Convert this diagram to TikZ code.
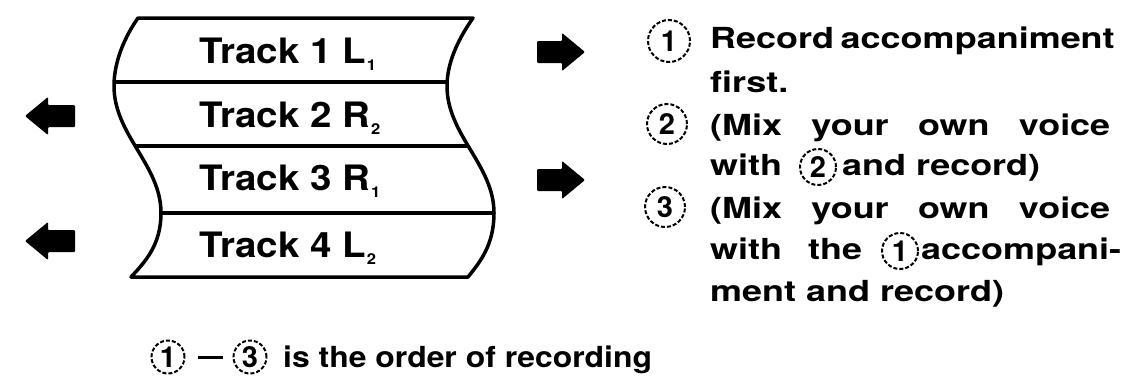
\documentclass[tikz,border=0pt]{standalone}
\usepackage{fontspec}
\setmainfont{TeX Gyre Heros}
\newfontfamily\txtfont[FakeStretch=1.24]{TeX Gyre Heros}
\newfontfamily\btmfont[FakeStretch=1.1]{TeX Gyre Heros}
\newfontfamily\tapefont[FakeStretch=1.1]{TeX Gyre Heros}
\newcommand{\tsub}[1]{\kern1pt\raisebox{-7pt}{\fontsize{15}{15}\selectfont #1}}
\begin{document}
\begin{tikzpicture}[x=1pt,y=-1pt,
  tapeline/.style={line width=3.5pt, line join=round},
  txt/.style={anchor=base west, inner sep=0pt, font=\txtfont\bfseries\fontsize{29}{29}\selectfont},
  btmtxt/.style={anchor=base west, inner sep=0pt, font=\btmfont\bfseries\fontsize{29}{29}\selectfont},
  tapetxt/.style={anchor=base west, inner sep=0pt, font=\tapefont\bfseries\fontsize{35}{35}\selectfont},
  numcirc/.style={circle, draw, line width=2pt, dash pattern=on 4pt off 2pt, inner sep=0pt, minimum size=#1, font=\bfseries\fontsize{29}{29}\selectfont},
  blockarrow/.style={fill=black, rounded corners=1pt}]
\useasboundingbox (0,0) rectangle (1134,383);

% tape
\begin{scope}
\clip (138,18) -- (473,18)
  .. controls (461,35) and (447,60) .. (447,86)
  .. controls (447,135) and (494,165) .. (494,213)
  .. controls (494,245) and (480,262) .. (468,277)
  -- (131,277)
  .. controls (145,262) and (161,245) .. (161,213)
  .. controls (161,165) and (114,135) .. (114,86)
  .. controls (114,60) and (126,35) .. (138,18) -- cycle;
\draw[tapeline] (90,82) -- (520,82);
\draw[tapeline] (90,146) -- (520,146);
\draw[tapeline] (90,213) -- (520,213);
\end{scope}
\draw[tapeline] (138,18) -- (473,18)
  .. controls (461,35) and (447,60) .. (447,86)
  .. controls (447,135) and (494,165) .. (494,213)
  .. controls (494,245) and (480,262) .. (468,277)
  -- (131,277)
  .. controls (145,262) and (161,245) .. (161,213)
  .. controls (161,165) and (114,135) .. (114,86)
  .. controls (114,60) and (126,35) .. (138,18) -- cycle;

\node[tapetxt] (t1) at (199,63) {Track 1 L\tsub{1}};
\node[tapetxt] (t2) at (199,127) {Track 2 R\tsub{2}};
\node[tapetxt] (t3) at (199,190) {Track 3 R\tsub{1}};
\node[tapetxt] (t4) at (199,257) {Track 4 L\tsub{2}};

% left arrows
\foreach \yy in {116,241}{
  \fill[blockarrow] (25,\yy) -- (48,\yy-19) -- (48,\yy-11) -- (75,\yy-11) -- (75,\yy+11) -- (48,\yy+11) -- (48,\yy+19) -- cycle;
}
% right arrows
\foreach \yy in {52,180}{
  \fill[blockarrow] (537,\yy-11) -- (562,\yy-11) -- (562,\yy-19) -- (585,\yy) -- (562,\yy+19) -- (562,\yy+11) -- (537,\yy+11) -- cycle;
}

% numbered list
\node[numcirc=42pt] (c1) at (669,41) {1};
\node[numcirc=40pt] (c2) at (667,124) {2};
\node[numcirc=40pt] (c3) at (665,207) {3};

\node[txt] (l1) at (710,48) {\makebox[400pt][s]{Record accompaniment}};
\node[txt] (l2) at (710,92) {first.};
\node[txt] (l3) at (710,135) {\makebox[400pt][s]{(Mix your own voice}};
\node[txt] (l4a) at (710,175) {with};
\node[numcirc=36pt] (c2b) at (818,167) {2};
\node[txt] (l4b) at (842,175) {and record)};
\node[txt] (l5) at (710,218) {\makebox[400pt][s]{(Mix your own voice}};
\node[txt] (l6a) at (710,259) {with};
\node[txt] (l6b) at (808,259) {the};
\node[numcirc=36pt] (c1b) at (900,251) {1};
\node[txt] (l6c) at (921,259) {accompani-};
\node[txt] (l7) at (710,301) {ment and record)};

% bottom line
\node[numcirc=33pt] (b1) at (168,357) {1};
\node[btmtxt, anchor=center] (bd) at (210,357) {\rule{25pt}{3pt}};
\node[numcirc=33pt] (b3) at (250,357) {3};
\node[btmtxt] (bt) at (283,367) {is the order of recording};
\end{tikzpicture}
\end{document}
